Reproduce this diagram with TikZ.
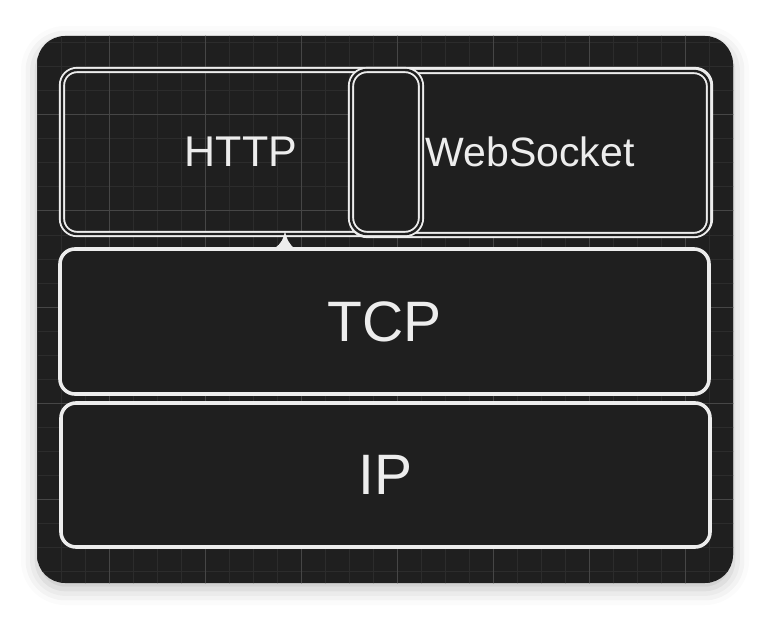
\documentclass[tikz,border=0pt]{standalone}
\usepackage{fontspec}
\setmainfont{Liberation Sans}
\usetikzlibrary{shadows.blur}

\definecolor{canvas}{HTML}{1F1F1F}
\definecolor{gridminor}{HTML}{2C2C2C}
\definecolor{gridmajor}{HTML}{464646}
\definecolor{ink}{HTML}{EDEDED}

\begin{document}
\begin{tikzpicture}[x=1pt, y=-1pt,
  box/.style={rectangle, inner sep=0pt, outer sep=0pt, rounded corners=15pt},
  solidlayer/.style={box, draw=ink, line width=3.6pt, fill=canvas},
  sketchlayer/.style={box, draw=ink, line width=1.9pt, double=canvas, double distance=2.4pt},
  caption/.style={text=ink, inner sep=0pt, font=\fontsize{#1}{#1}\selectfont},
]
\useasboundingbox (0,0) rectangle (770,620);

% dark board with soft drop shadow
\node[box, rounded corners=28pt, fill=canvas, minimum width=696pt, minimum height=547pt,
  blur shadow={shadow xshift=0pt, shadow yshift=-6pt, shadow blur radius=16pt, shadow opacity=25}]
  (board) at (385,309.5) {};

% background grid, clipped to the board
\begin{scope}
  \clip[rounded corners=28pt] (board.south west) rectangle (board.north east);
  \foreach \gx in {13,37,...,757} \draw[gridminor, line width=1pt] (\gx,30) -- (\gx,590);
  \foreach \gy in {19,43,...,619} \draw[gridminor, line width=1pt] (30,\gy) -- (740,\gy);
  \foreach \gx in {13,109,...,757} \draw[gridmajor, line width=1pt] (\gx,30) -- (\gx,590);
  \foreach \gy in {19,115,...,619} \draw[gridmajor, line width=1pt] (30,\gy) -- (740,\gy);
\end{scope}

% application row
\node[sketchlayer, minimum width=648pt, minimum height=164pt] (toprow) at (386,152) {};
\node[sketchlayer, fill=canvas, minimum width=357pt, minimum height=164pt] (wsbox) at (530.5,153) {};
\node[sketchlayer, fill=canvas, rounded corners=16pt, minimum width=70pt, minimum height=164pt] (gapbox) at (386,152) {};
\node[caption=43] (httplabel) at (241,152) {HTTP};
\node[caption=41] (wslabel) at (530,152) {WebSocket};

% small stroke spike under the application row
\fill[ink] (275,248) .. controls (281,244) and (284,238) .. (285,231)
  .. controls (286,238) and (289,244) .. (295,249) -- cycle;

% transport and network layers
\node[solidlayer, minimum width=649pt, minimum height=145pt] (tcp) at (384.5,321.5)
  {\fontsize{57}{57}\selectfont\color{ink}TCP};
\node[solidlayer, minimum width=649pt, minimum height=144pt] (ip) at (385.5,475)
  {\fontsize{57}{57}\selectfont\color{ink}IP};
\end{tikzpicture}
\end{document}
